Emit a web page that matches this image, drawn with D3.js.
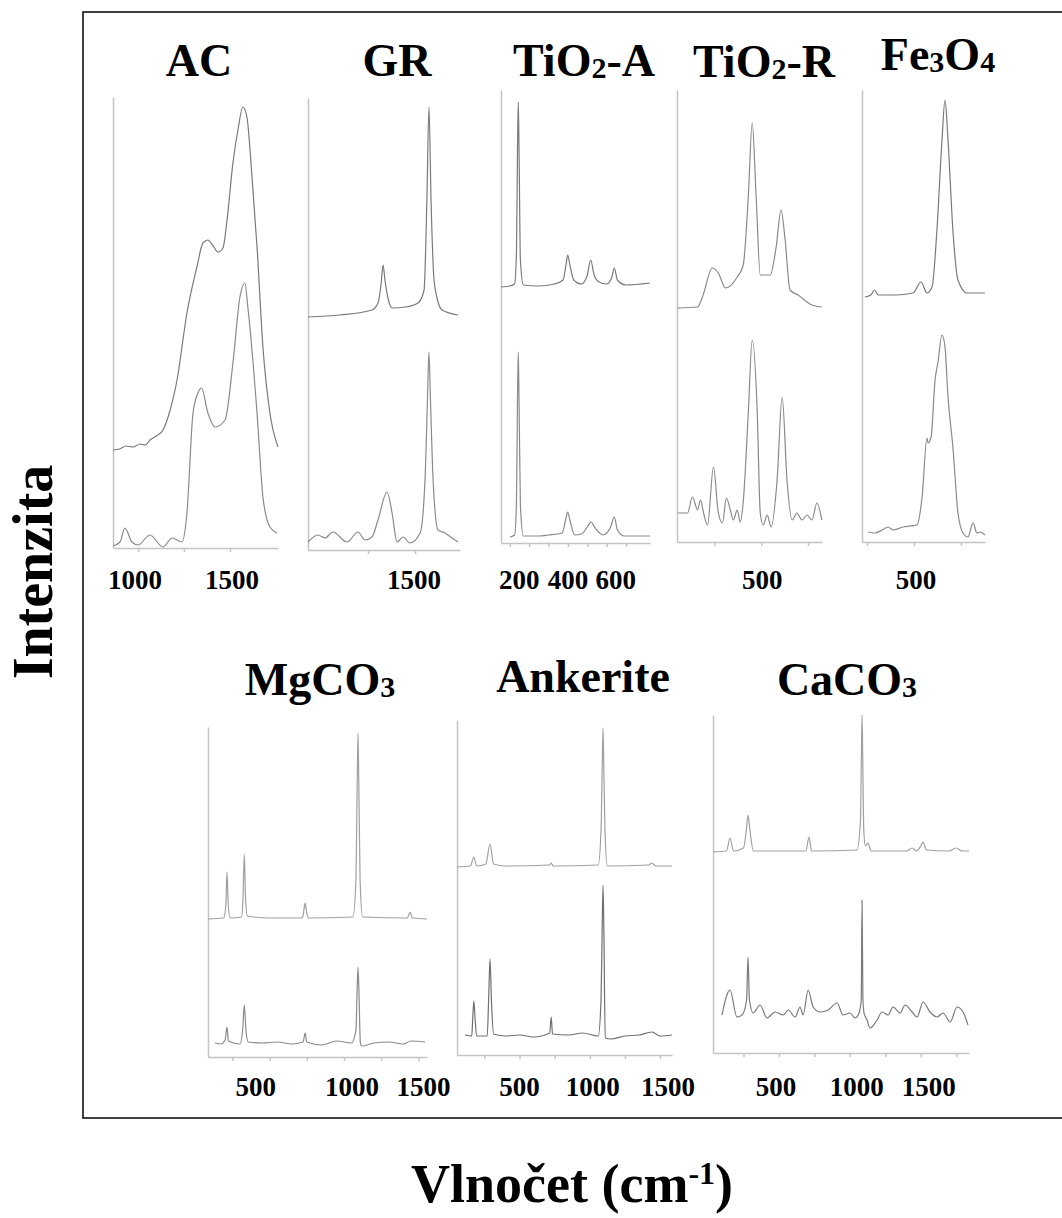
<!DOCTYPE html>
<html><head><meta charset="utf-8">
<script src="https://cdn.jsdelivr.net/npm/d3@7"></script>
<style>body{margin:0;background:#fff}svg{display:block}</style>
</head><body>
<svg id="c" width="1062" height="1218"></svg>
<script>
// ===== DATA (wavenumber cm-1, intensity a.u.) =====
const titles = ["AC","GR","TiO2-A","TiO2-R","Fe3O4","MgCO3","Ankerite","CaCO3"];

const AC_top = [[864,98],[900,99],[935,102],[973,101],[1010,104],[1040,103],[1065,108],[1100,112],[1136,118],[1170,135],[1212,168],[1266,235],[1320,281],[1353,305],[1380,308],[1405,303],[1435,296],[1462,300],[1484,328],[1516,385],[1545,420],[1570,441],[1592,431],[1620,370],[1647,301],[1679,201],[1717,135],[1761,101]];
const AC_bot = [[864,2],[902,6],[929,20],[967,6],[1000,3],[1065,13],[1136,1],[1185,10],[1239,6],[1266,35],[1299,135],[1326,155],[1345,160],[1380,135],[1418,121],[1473,128],[1516,185],[1554,251],[1581,265],[1597,241],[1647,135],[1679,51],[1717,21],[1755,15]];

const GR_top = [[931,233],[1101,235],[1271,240],[1303,247],[1319,265],[1330,285],[1340,270],[1356,252],[1378,242],[1450,243],[1516,247],[1548,260],[1563,350],[1574,443],[1585,350],[1601,270],[1617,252],[1644,240],[1729,235]];
const GR_bot = [[931,8],[984,15],[1021,12],[1064,18],[1138,8],[1197,18],[1234,10],[1271,13],[1303,30],[1351,58],[1378,37],[1404,8],[1436,13],[1473,7],[1527,17],[1553,70],[1566,150],[1574,198],[1582,150],[1596,70],[1622,20],[1660,17],[1697,12],[1729,8]];

const TA_top = [[55,256],[100,257],[125,259],[135,293],[140,393],[144,441],[148,393],[155,283],[170,258],[250,257],[330,259],[375,263],[390,278],[399,288],[410,278],[430,263],[470,259],[500,268],[517,283],[535,268],[560,261],[600,259],[625,265],[639,275],[655,263],[700,258],[823,260]];
const TA_bot = [[101,6],[125,8],[135,43],[140,143],[144,191],[148,143],[155,38],[170,7],[250,7],[300,8],[370,10],[390,25],[399,31],[410,23],[435,8],[470,9],[500,16],[519,21],[540,15],[580,8],[620,16],[639,26],[655,13],[690,7],[823,7]];

const TR_top = [[53,234],[160,235],[186,245],[239,274],[271,269],[309,254],[372,265],[404,277],[431,345],[452,419],[473,345],[495,267],[548,267],[580,295],[606,332],[628,302],[654,252],[697,247],[771,237],[824,235]];
const TR_bot = [[53,29],[106,29],[133,45],[160,32],[176,42],[192,29],[213,17],[245,75],[271,29],[293,19],[314,44],[335,32],[351,22],[372,32],[388,20],[404,40],[431,129],[452,202],[479,129],[495,29],[511,17],[532,27],[553,15],[585,62],[612,145],[638,62],[665,22],[691,29],[718,22],[745,27],[771,22],[798,39],[824,22]];

const FE_top = [[239,245],[270,247],[290,252],[309,247],[335,247],[400,247],[495,249],[537,260],[569,249],[596,255],[622,312],[649,402],[665,442],[681,402],[707,312],[734,262],[782,249],[878,249]];
const FE_bot = [[255,10],[293,9],[330,12],[362,15],[388,12],[441,15],[516,17],[543,45],[569,104],[575,99],[591,105],[612,162],[627,179],[649,207],[665,195],[681,145],[707,95],[734,29],[761,9],[787,5],[814,19],[835,9],[851,10],[878,7]];

const MG_top = [[85,138],[190,139],[205,152],[213,185],[221,152],[235,139],[310,140],[320,157],[329,203],[338,157],[350,141],[500,139],[720,139],[730,147],[738,154],[746,147],[760,139],[1060,140],[1080,177],[1088,267],[1094,324],[1100,267],[1108,177],[1125,140],[1425,139],[1444,145],[1460,139],[1558,138]];
const MG_bot = [[132,14],[170,13],[200,17],[213,30],[222,16],[300,13],[318,27],[329,52],[340,27],[355,15],[450,14],[550,15],[650,13],[725,15],[738,24],[750,15],[850,12],[950,16],[1050,14],[1080,27],[1088,67],[1094,90],[1100,67],[1110,14],[1120,11],[1200,14],[1300,15],[1400,13],[1450,16],[1544,15]];

const AN_top = [[55,188],[150,189],[175,198],[195,189],[260,191],[290,211],[315,191],[400,189],[715,190],[725,192],[740,189],[1060,190],[1080,225],[1088,285],[1094,327],[1100,285],[1108,225],[1125,189],[1420,190],[1442,192],[1470,189],[1585,189]];
const AN_bot = [[112,20],[160,19],[168,40],[175,54],[182,40],[195,19],[270,19],[280,55],[290,96],[300,55],[315,21],[400,19],[500,20],[600,18],[715,22],[725,38],[735,21],[850,20],[950,22],[1060,19],[1080,55],[1088,125],[1094,170],[1100,125],[1110,17],[1150,16],[1250,19],[1350,20],[1442,23],[1500,19],[1585,20]];

const CA_top = [[35,201],[130,202],[155,215],[180,202],[250,205],[270,223],[282,238],[295,223],[320,202],[690,202],[712,216],[730,202],[1050,203],[1075,233],[1081,293],[1086,338],[1091,293],[1098,223],[1110,207],[1127,210],[1150,202],[1400,202],[1439,205],[1470,202],[1500,207],[1516,211],[1540,203],[1700,202],[1749,205],[1790,202],[1840,202]];
const CA_bot = [[98,38],[155,63],[204,36],[240,38],[272,53],[282,96],[292,53],[318,40],[367,48],[416,35],[473,41],[530,38],[565,43],[614,36],[649,46],[670,38],[706,63],[741,46],[791,41],[847,43],[910,50],[952,38],[1001,40],[1037,35],[1065,40],[1080,53],[1086,153],[1092,53],[1100,40],[1121,33],[1142,25],[1192,33],[1227,41],[1269,38],[1305,46],[1354,40],[1389,48],[1439,41],[1474,36],[1516,51],[1565,41],[1615,36],[1657,40],[1707,31],[1756,46],[1798,41],[1833,28]];

const xDomains = [[864,1761],[931,1739],[55,823],[50,825],[223,878],[85,1558],[55,1585],[35,1840]];
const yMax = [451,452,453,452,452,330,335,338];
const tickVals = [[1000,1250,1500],[1250,1500],[100,200,300,400,500,600,700],[250,500,750],[250,500,750],
  [250,500,750,1000,1250,1500],[250,500,750,1000,1250,1500],[250,500,750,1000,1250,1500,1750]];
const tickLabels = [["1000","1500"],["1500"],["200","400","600"],["500"],["500"],["500","1000","1500"],["500","1000","1500"],["500","1000","1500"]];
const tickLabelAt = [[1000,1500],[1500],[200,400,600],[500],[500],[500,1000,1500],[500,1000,1500],[500,1000,1500]];
const spectra = [[AC_top,AC_bot],[GR_top,GR_bot],[TA_top,TA_bot],[TR_top,TR_bot],[FE_top,FE_bot],[MG_top,MG_bot],[AN_top,AN_bot],[CA_top,CA_bot]];

// ===== LAYOUT =====
const boxes = [[113,278,97,548],[308,460,98,550],[501,650,90,543],[677,822,90,542],[862,985,90,542],
  [208,427,727,1057],[457,672,720,1055],[713,969,715,1053]];
const labelDx = [[-3,2],[-1],[-10,0,9],[1],[2],[-14,8,5],[0,3,8],[-3,7,8]];
const titlePos = [[199,76],[397,76],[584,76],[764,77],[938,70],[320,695],[583,692],[847,695]];
const labelBase = [589,589,589,589,589,1096,1096,1096];
const lineColors = [["#7a7a7a","#8a8a8a"],["#7a7a7a","#8a8a8a"],["#7a7a7a","#8a8a8a"],["#8a8a8a","#8a8a8a"],["#7a7a7a","#8a8a8a"],
  ["#a0a0a0","#8a8a8a"],["#a0a0a0","#707070"],["#a0a0a0","#7a7a7a"]];

const FONT = "'Liberation Serif','Times New Roman',serif";
const svg = d3.select("#c");

// frame
svg.append("rect").attr("x",83).attr("y",12).attr("width",1000).attr("height",1106)
  .attr("fill","none").attr("stroke","#000").attr("stroke-width",1.5);

function titleText(g, t, x, y){
  const txt = g.append("text").attr("x",x).attr("y",y).attr("text-anchor","middle")
    .attr("font-family",FONT).attr("font-weight","bold").attr("font-size",46).attr("fill","#000");
  const parts = t.match(/[A-Za-z\-]+|\d/g);
  let sub = false;
  parts.forEach(p=>{
    if(/\d/.test(p)){
      txt.append("tspan").attr("font-size",30).attr("dy",2).text(p); sub = true;
    } else {
      txt.append("tspan").attr("font-size",46).attr("dy", sub? -2:0).text(p); sub=false;
    }
  });
}

spectra.forEach((pair,i)=>{
  const [x0,x1,y0,y1] = boxes[i];
  const g = svg.append("g");
  const x = d3.scaleLinear().domain(xDomains[i]).range([x0,x1]);
  const y = d3.scaleLinear().domain([0,yMax[i]]).range([y1,y0]);
  const ax = g.append("g").attr("transform",`translate(0,${y1})`)
    .call(d3.axisBottom(x).tickValues(tickVals[i]).tickSize(4).tickSizeOuter(0).tickFormat(""));
  ax.selectAll("path,line").attr("stroke","#c4c4c4").attr("stroke-width",1.5);
  const ay = g.append("g").attr("transform",`translate(${x0},0)`)
    .call(d3.axisLeft(y).tickValues([]).tickSizeOuter(0));
  ay.selectAll("path").attr("stroke","#c4c4c4").attr("stroke-width",1.5);
  const line = d3.line().x(d=>x(d[0])).y(d=>y(d[1])).curve(d3.curveMonotoneX);
  pair.forEach((s,k)=>{
    g.append("path").datum(s).attr("d",line).attr("fill","none")
      .attr("stroke", lineColors[i][k]).attr("stroke-width",1.2).attr("stroke-linejoin","round");
  });
  tickLabels[i].forEach((lab,j)=>{
    g.append("text").attr("x", x(tickLabelAt[i][j]) + labelDx[i][j]).attr("y", labelBase[i])
      .attr("text-anchor","middle").attr("font-family",FONT).attr("font-weight","bold")
      .attr("font-size",27).attr("fill","#000").text(lab);
  });
  titleText(g, titles[i], titlePos[i][0], titlePos[i][1]);
});

// axis titles
svg.append("text").attr("transform","translate(52,572) rotate(-90)").attr("text-anchor","middle")
  .attr("font-family",FONT).attr("font-weight","bold").attr("font-size",56).attr("fill","#000").text("Intenzita");
const xt = svg.append("text").attr("x",572).attr("y",1202).attr("text-anchor","middle")
  .attr("font-family",FONT).attr("font-weight","bold").attr("font-size",54).attr("fill","#000");
xt.append("tspan").text("Vlnočet (cm");
xt.append("tspan").attr("font-size",32).attr("dy",-18).text("-1");
xt.append("tspan").attr("dy",18).text(")");
</script>
</body></html>
